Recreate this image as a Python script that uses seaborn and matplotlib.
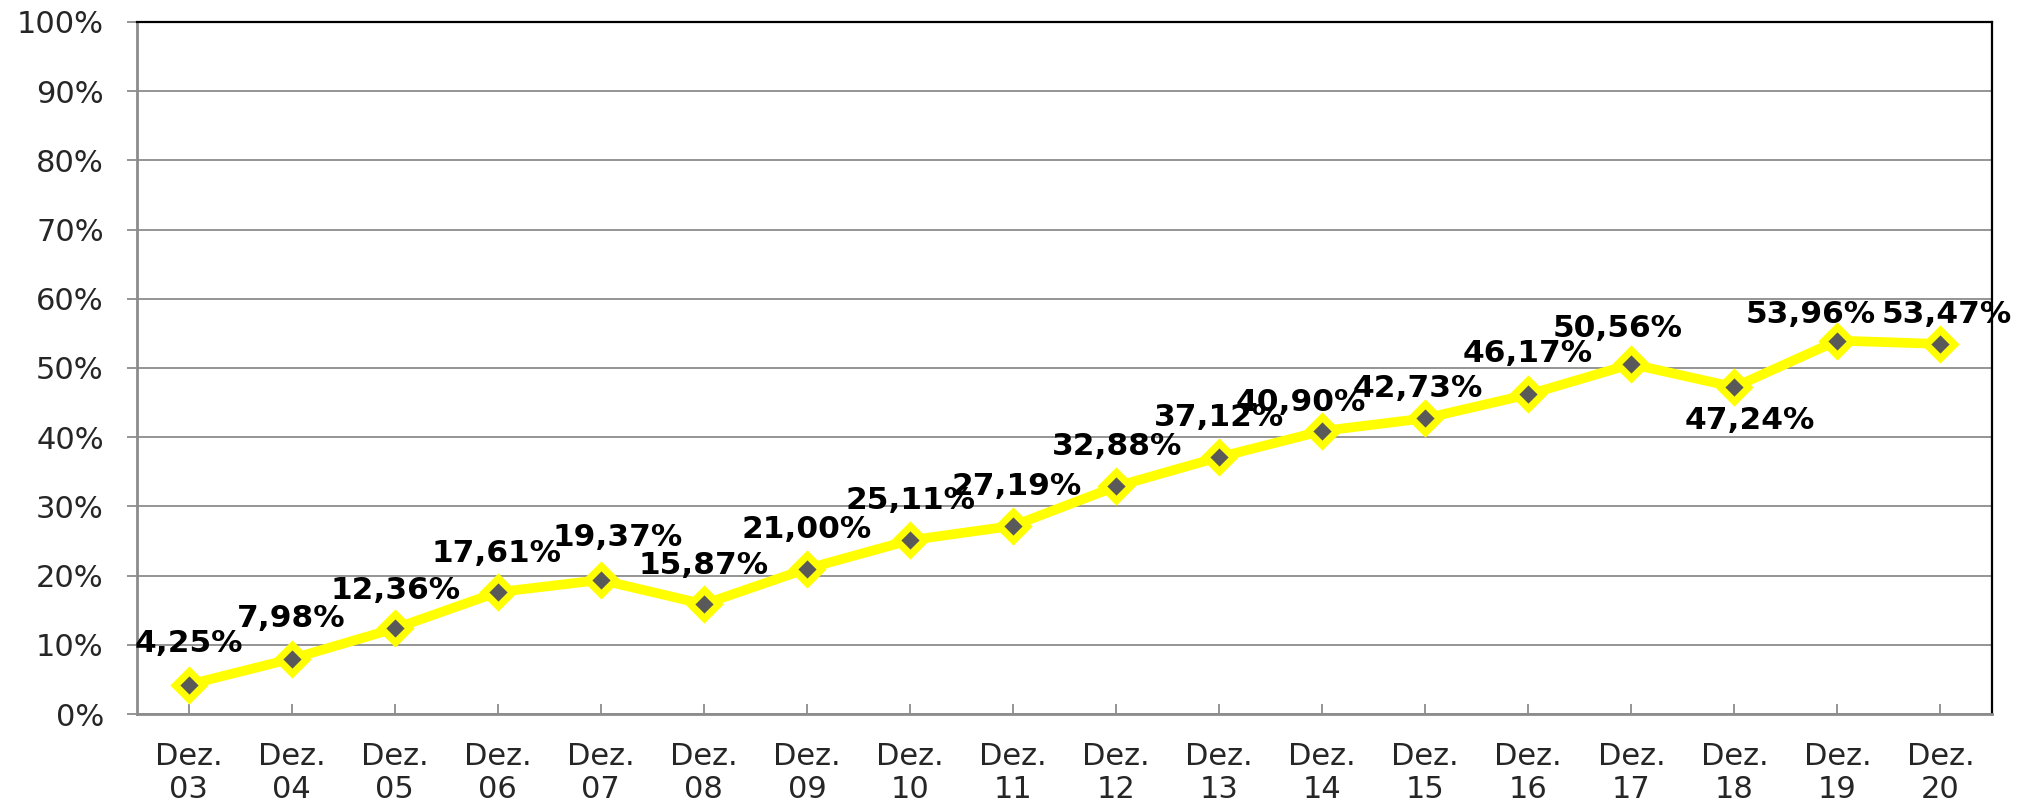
import numpy as np
import pandas as pd
import matplotlib
matplotlib.use("Agg")
import matplotlib.pyplot as plt
import seaborn as sns
from matplotlib.ticker import FuncFormatter, MultipleLocator

sns.set_theme(style="white")
plt.rcParams["font.family"] = ["DejaVu Sans"]

# data
categories = ["Dez.\n03", "Dez.\n04", "Dez.\n05", "Dez.\n06", "Dez.\n07", "Dez.\n08",
              "Dez.\n09", "Dez.\n10", "Dez.\n11", "Dez.\n12", "Dez.\n13", "Dez.\n14",
              "Dez.\n15", "Dez.\n16", "Dez.\n17", "Dez.\n18", "Dez.\n19", "Dez.\n20"]
values = [4.25, 7.98, 12.36, 17.61, 19.37, 15.87, 21.00, 25.11, 27.19,
          32.88, 37.12, 40.90, 42.73, 46.17, 50.56, 47.24, 53.96, 53.47]

# label offsets in pixels (dx, dy)
label_dx = [0, 0, 1, -1, 17, 0, 0, 1, 4, 1, 0, -21, -7, -1, -14, 15, -27, 6]
label_dy = [41, 40, 38, 39, 42, 39, 39, 40, 39, 40, 40, 28, 30, 41, 36, -33, 26, 29]

df = pd.DataFrame({"pos": np.arange(len(categories)), "value": values})

fig = plt.figure(figsize=(20.31, 8.11), dpi=100)
ax = fig.add_axes([0.0675, 0.1196, 0.9133, 0.8533])

ax.yaxis.grid(True, color="#8c8c8c", linewidth=1.3)
ax.set_axisbelow(True)

sns.lineplot(data=df, x="pos", y="value", ax=ax, color="#FFFF00", linewidth=7, zorder=3)
sns.scatterplot(data=df, x="pos", y="value", ax=ax, marker="D", s=207,
                color="#595959", edgecolor="#FFFF00", linewidth=5.1, zorder=4)
ax.collections[-1].set_joinstyle("miter")

for i, v in enumerate(values):
    txt = f"{v:.2f}".replace(".", ",") + "%"
    ax.annotate(txt, (i, v), xytext=(label_dx[i], label_dy[i]), textcoords="offset pixels",
                ha="center", va="center", fontsize=22.5, fontweight="bold", color="black",
                zorder=5)

ax.set_xlim(-0.5, len(categories) - 0.5)
ax.set_ylim(0, 100)
ax.yaxis.set_major_locator(MultipleLocator(10))
ax.yaxis.set_major_formatter(FuncFormatter(lambda y, _: f"{y:.0f}%"))
ax.set_xticks(df["pos"])
ax.set_xticklabels(categories)
ax.set_xlabel("")
ax.set_ylabel("")

ax.tick_params(axis="y", direction="out", length=7, width=1.3, color="#8c8c8c",
               labelsize=22, pad=17, left=True)
ax.tick_params(axis="x", direction="in", length=7, width=1.3, color="#8c8c8c",
               labelsize=22, pad=20, bottom=True)

for side in ["left", "bottom"]:
    ax.spines[side].set_color("#8c8c8c")
    ax.spines[side].set_linewidth(2)
for side in ["top", "right"]:
    ax.spines[side].set_color("black")
    ax.spines[side].set_linewidth(1.6)
    ax.spines[side].set_visible(True)

fig.savefig("out.png", dpi=100, facecolor="white")
